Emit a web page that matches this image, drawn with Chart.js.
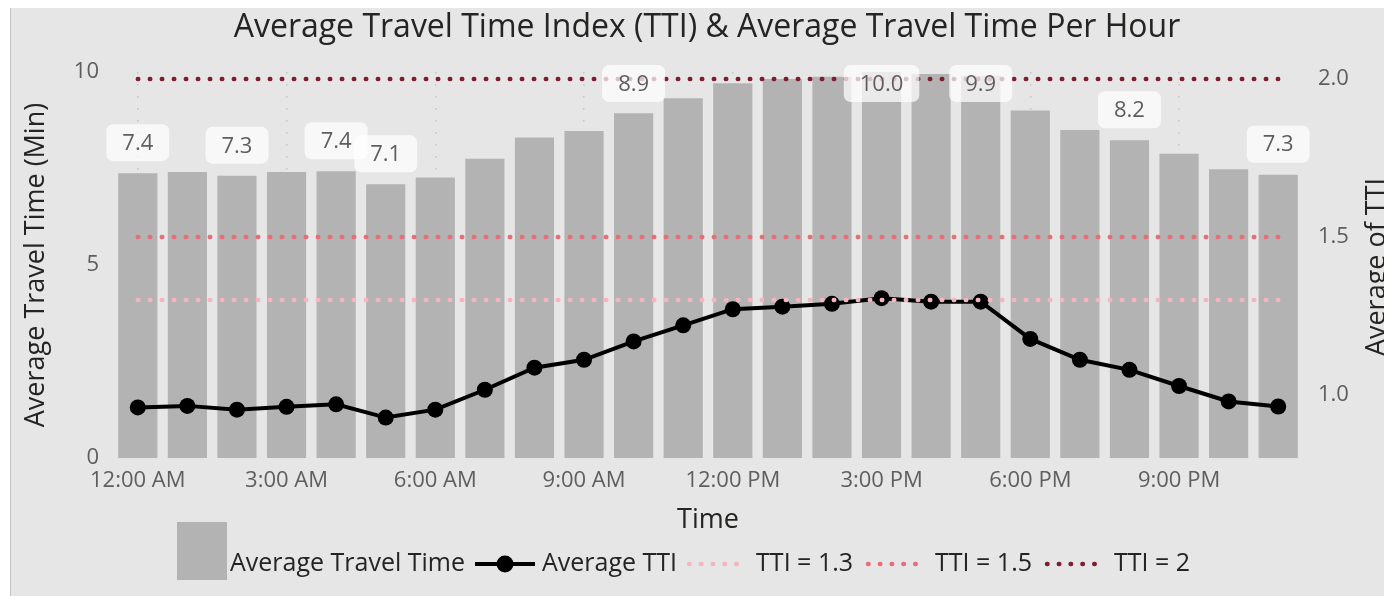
<!DOCTYPE html>
<html>
<head>
<meta charset="utf-8">
<title>Average Travel Time Index (TTI) & Average Travel Time Per Hour</title>
<script src="https://cdn.jsdelivr.net/npm/chart.js@4.4.1/dist/chart.umd.min.js"></script>
<style>
  html, body { margin: 0; padding: 0; background: #ffffff; overflow: hidden; width: 1384px; height: 596px; }
  #panel { position: absolute; left: 10px; top: 8px; width: 1374px; height: 588px; background: #e6e6e6; border-left: 1px solid #c2c2c2; }
  #chart { position: absolute; left: 0; top: 0; }
</style>
</head>
<body>
<div id="panel"></div>
<canvas id="chart" width="1414" height="596"></canvas>
<script>
// Hour-of-day categories
const hours = [
  '12:00 AM', '1:00 AM', '2:00 AM', '3:00 AM', '4:00 AM', '5:00 AM',
  '6:00 AM', '7:00 AM', '8:00 AM', '9:00 AM', '10:00 AM', '11:00 AM',
  '12:00 PM', '1:00 PM', '2:00 PM', '3:00 PM', '4:00 PM', '5:00 PM',
  '6:00 PM', '7:00 PM', '8:00 PM', '9:00 PM', '10:00 PM', '11:00 PM'
];

// Average travel time per hour (minutes)
const travelTime = [
  7.38, 7.41, 7.31, 7.41, 7.43, 7.09,
  7.27, 7.75, 8.30, 8.47, 8.93, 9.32,
  9.71, 9.82, 9.88, 10.0, 9.95, 9.90,
  9.00, 8.50, 8.23, 7.88, 7.48, 7.34
];

// Average travel time index per hour
const avgTTI = [
  0.960, 0.965, 0.953, 0.962, 0.970, 0.928,
  0.953, 1.016, 1.086, 1.111, 1.169, 1.220,
  1.271, 1.279, 1.288, 1.306, 1.295, 1.295,
  1.177, 1.111, 1.079, 1.028, 0.979, 0.963
];

// Reference TTI thresholds
const thresholdValues = [1.3, 1.5, 2];
const thresholdNames = ['TTI = 1.3', 'TTI = 1.5', 'TTI = 2'];
const thresholdColors = ['#f4b5bd', '#e86d78', '#7e1f30'];

// Axis ticks
const timeTicks = [0, 5, 10];
const ttiTicks = [1.0, 1.5, 2.0];

// Hours whose bars carry a value label
const labelledHours = [0, 2, 4, 5, 10, 15, 17, 20, 23];

const FONT = '"Open Sans", "Noto Sans", sans-serif';
const BAR_COLOR = '#b3b3b3';
const TICK_COLOR = '#605e5c';
const TEXT_COLOR = '#252423';

const dotted = { borderDash: [0.5, 11.5], borderCapStyle: 'round', borderWidth: 4.5 };

function thresholdDataset(i) {
  return Object.assign({
    type: 'line',
    label: thresholdNames[i],
    data: [
      { x: hours[0], y: thresholdValues[i] },
      { x: hours[hours.length - 1], y: thresholdValues[i] }
    ],
    yAxisID: 'yTTI',
    borderColor: thresholdColors[i],
    pointRadius: 0,
    fill: false,
    order: 0
  }, dotted);
}

// Value labels in soft white rounded boxes above chosen bars
const barLabels = {
  id: 'barLabels',
  afterDatasetsDraw(chart) {
    const ctx = chart.ctx;
    const meta = chart.getDatasetMeta(0);
    const top = chart.chartArea.top;
    ctx.save();
    ctx.font = '22px ' + FONT;
    labelledHours.forEach(i => {
      const bar = meta.data[i];
      const txt = travelTime[i].toFixed(1);
      const w = ctx.measureText(txt).width + 32;
      const h = 37;
      const y = Math.max(bar.y - 12 - h, top - 7);
      ctx.fillStyle = 'rgba(255,255,255,0.72)';
      ctx.beginPath();
      ctx.roundRect(bar.x - w / 2, y, w, h, 7);
      ctx.fill();
      ctx.fillStyle = TICK_COLOR;
      ctx.textAlign = 'center';
      ctx.textBaseline = 'middle';
      ctx.fillText(txt, bar.x, y + h / 2 + 1);
    });
    ctx.restore();
  }
};

// Right axis title, reading bottom to top like the left one
const rightTitle = {
  id: 'rightTitle',
  afterDraw(chart) {
    const ctx = chart.ctx;
    const area = chart.chartArea;
    ctx.save();
    ctx.translate(1377, (area.top + area.bottom) / 2 + 2);
    ctx.rotate(-Math.PI / 2);
    ctx.font = '27px ' + FONT;
    ctx.fillStyle = TEXT_COLOR;
    ctx.textAlign = 'center';
    ctx.textBaseline = 'middle';
    ctx.fillText('Average of TTI', 0, 0);
    ctx.restore();
  }
};

// Legend row under the axis title
const legendRow = {
  id: 'legendRow',
  afterDraw(chart) {
    const ctx = chart.ctx;
    const cy = 564;
    ctx.save();
    ctx.font = '25px ' + FONT;
    ctx.textBaseline = 'middle';
    ctx.textAlign = 'left';
    let x = 177;

    // bar swatch
    ctx.fillStyle = BAR_COLOR;
    ctx.fillRect(x, 522, 50, 58);
    x += 53;
    ctx.fillStyle = TEXT_COLOR;
    ctx.fillText('Average Travel Time', x, cy);
    x += ctx.measureText('Average Travel Time').width + 10;

    // line + marker swatch
    ctx.strokeStyle = '#000';
    ctx.lineWidth = 4;
    ctx.beginPath();
    ctx.moveTo(x, cy);
    ctx.lineTo(x + 60, cy);
    ctx.stroke();
    ctx.fillStyle = '#000';
    ctx.beginPath();
    ctx.arc(x + 30, cy, 8.5, 0, Math.PI * 2);
    ctx.fill();
    x += 67;
    ctx.fillStyle = TEXT_COLOR;
    ctx.fillText('Average TTI', x, cy);
    x += ctx.measureText('Average TTI').width + 12;

    // dotted threshold swatches
    thresholdNames.forEach((name, i) => {
      ctx.save();
      ctx.strokeStyle = thresholdColors[i];
      ctx.lineWidth = 4.5;
      ctx.lineCap = 'round';
      ctx.setLineDash([0.5, 11.3]);
      ctx.beginPath();
      ctx.moveTo(x, cy);
      ctx.lineTo(x + 58, cy);
      ctx.stroke();
      ctx.restore();
      x += 67;
      ctx.fillStyle = TEXT_COLOR;
      ctx.fillText(name, x, cy);
      x += ctx.measureText(name).width + 15;
    });
    ctx.restore();
  }
};

const chart = new Chart(document.getElementById('chart'), {
  data: {
    labels: hours,
    datasets: [
      {
        type: 'bar',
        label: 'Average Travel Time',
        data: travelTime,
        yAxisID: 'yTime',
        backgroundColor: BAR_COLOR,
        categoryPercentage: 1,
        barPercentage: 0.79,
        order: 3
      },
      {
        type: 'line',
        label: 'Average TTI',
        data: avgTTI,
        yAxisID: 'yTTI',
        borderColor: '#000',
        backgroundColor: '#000',
        borderWidth: 4,
        pointRadius: 8,
        pointBorderWidth: 0,
        pointBackgroundColor: '#000',
        tension: 0,
        order: 1
      },
      thresholdDataset(0),
      thresholdDataset(1),
      thresholdDataset(2)
    ]
  },
  options: {
    responsive: false,
    animation: false,
    devicePixelRatio: 1,
    layout: { padding: { left: 0, right: 0, top: 0, bottom: 56 } },
    plugins: {
      legend: { display: false },
      tooltip: { enabled: false },
      title: {
        display: true,
        text: 'Average Travel Time Index (TTI) & Average Travel Time Per Hour',
        color: TEXT_COLOR,
        font: { family: FONT, size: 32, weight: 'normal' },
        padding: { top: 9, bottom: 24.6 }
      }
    },
    scales: {
      x: {
        type: 'category',
        offset: true,
        grid: {
          offset: false,
          drawTicks: false,
          lineWidth: 1.5,
          color: ctx => (ctx.index % 3 === 0 ? '#c4c4c4' : 'transparent')
        },
        border: { display: false, dash: [1.5, 10.5] },
        ticks: {
          autoSkip: false,
          minRotation: 0,
          maxRotation: 0,
          padding: 10,
          color: TICK_COLOR,
          font: { family: FONT, size: 22 },
          callback: (v, i) => (i % 3 === 0 ? hours[i] : '')
        },
        title: {
          display: true,
          text: 'Time',
          color: TEXT_COLOR,
          font: { family: FONT, size: 27 },
          padding: { top: 0, bottom: 3 }
        },
        afterFit: s => { s.height = 82; }
      },
      yTime: {
        type: 'linear',
        position: 'left',
        min: 0,
        max: 10,
        grid: { display: false, drawTicks: false },
        border: { display: false },
        afterBuildTicks: s => { s.ticks = timeTicks.map(v => ({ value: v })); },
        ticks: {
          padding: 14,
          color: TICK_COLOR,
          font: { family: FONT, size: 22 },
          callback: v => String(v)
        },
        title: {
          display: true,
          text: 'Average Travel Time (Min)',
          color: TEXT_COLOR,
          font: { family: FONT, size: 27 },
          padding: { top: 20, bottom: 0 }
        },
        afterFit: s => { s.width = 113; }
      },
      yTTI: {
        type: 'linear',
        position: 'right',
        min: 0.8,
        max: 2.022,
        grid: { display: false, drawTicks: false },
        border: { display: false },
        afterBuildTicks: s => { s.ticks = ttiTicks.map(v => ({ value: v })); },
        ticks: {
          padding: 15,
          color: TICK_COLOR,
          font: { family: FONT, size: 22 },
          callback: v => Number(v).toFixed(1)
        },
        afterFit: s => { s.width = 111; }
      }
    }
  },
  plugins: [barLabels, rightTitle, legendRow]
});
</script>
</body>
</html>
